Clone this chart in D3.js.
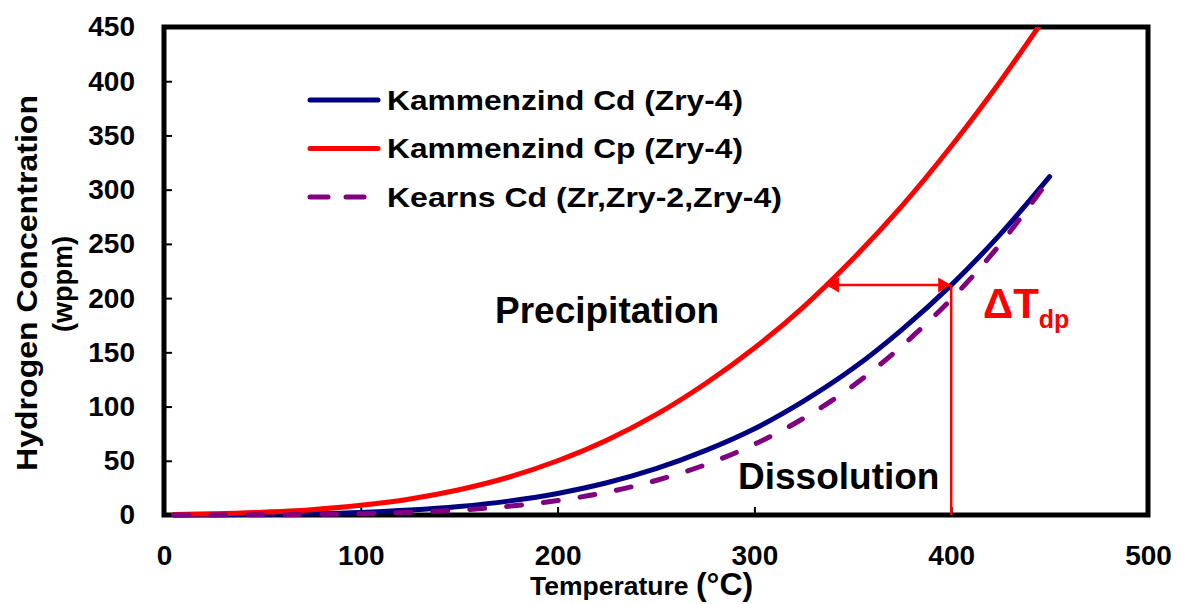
<!DOCTYPE html>
<html lang="en">
<head>
<meta charset="utf-8" />
<title>Hydride solubility</title>
<script src="https://cdn.jsdelivr.net/npm/d3@7"></script>
<style>
  body { margin: 0; background: #fff; }
  svg { display: block; font-family: "Liberation Sans", Arial, sans-serif; font-weight: bold; }
  .tick text { font-size: 28px; font-weight: bold; fill: #000; }
  .tick line { stroke: #000; stroke-width: 2px; }
</style>
</head>
<body>
<div id="chart"></div>
<script>
// temperature in degC, hydrogen in wppm
var temps = [5, 25, 50, 75, 100, 125, 150, 175, 200, 225, 250, 275, 300, 325, 350, 375, 400, 425, 450];
var cdKammenzind = [0.1, 0.2, 0.5, 1.2, 2.4, 4.5, 7.8, 12.8, 19.9, 29.7, 42.7, 59.3, 79.5, 105, 135, 171, 212, 259, 312];
var cpKammenzind = [0.5, 1.1, 2.5, 4.9, 8.9, 14.8, 23.3, 34.8, 50.0, 69.0, 92.5, 121, 154, 192, 236, 285, 340, 400, 465];
var cdKearns = [0.0, 0.1, 0.2, 0.5, 1.2, 2.4, 4.5, 8.0, 13.3, 21.0, 31.8, 46.3, 65.2, 89.2, 119, 156, 199, 250, 310];

var seriesNames = ["Kammenzind Cd (Zry-4)", "Kammenzind Cp (Zry-4)", "Kearns Cd (Zr,Zry-2,Zry-4)"];
var xTicks = [0, 100, 200, 300, 400, 500];
var yTicks = [0, 50, 100, 150, 200, 250, 300, 350, 400, 450];
var deltaT = 400; // temperature where the dT_dp arrow is drawn

var width = 1178, height = 604;
var x0 = 164, x1 = 1148, y0 = 27, y1 = 515;

var x = d3.scaleLinear().domain([0, 500]).range([x0, x1]);
var y = d3.scaleLinear().domain([0, 450]).range([y1, y0]);

var svg = d3.select("#chart").append("svg")
    .attr("width", width)
    .attr("height", height);

// clip only at the top, curves sit on top of the bottom frame line
svg.append("defs").append("clipPath").attr("id", "plot")
  .append("rect")
    .attr("x", x0).attr("y", y0)
    .attr("width", x1 - x0).attr("height", y1 - y0 + 6);

// frame
svg.append("rect")
    .attr("x", x0).attr("y", y0)
    .attr("width", x1 - x0).attr("height", y1 - y0)
    .attr("fill", "none")
    .attr("stroke", "#000")
    .attr("stroke-width", 5);

// axes, ticks pointing inward
svg.append("g")
    .attr("transform", "translate(" + x0 + ",0)")
    .call(d3.axisLeft(y).tickValues(yTicks).tickSize(-8).tickPadding(29))
    .call(function(g) { g.select(".domain").remove(); });

svg.append("g")
    .attr("transform", "translate(0," + y1 + ")")
    .call(d3.axisBottom(x).tickValues(xTicks).tickSize(-8).tickPadding(30))
    .call(function(g) { g.select(".domain").remove(); });

svg.selectAll(".tick text").attr("font-family", null).attr("font-size", null);

// curves
var line = d3.line()
    .x(function(d) { return x(d[0]); })
    .y(function(d) { return y(d[1]); })
    .curve(d3.curveCatmullRom);

function pairs(vals) { return temps.map(function(t, i) { return [t, vals[i]]; }); }

var series = [
  { name: seriesNames[0], values: cdKammenzind, color: "#000080", dash: null },
  { name: seriesNames[1], values: cpKammenzind, color: "#ff0000", dash: null },
  { name: seriesNames[2], values: cdKearns, color: "#800080", dash: "15,22" }
];

var curves = svg.append("g").attr("clip-path", "url(#plot)");
curves.selectAll("path")
  .data(series)
  .enter().append("path")
    .attr("d", function(d) { return line(pairs(d.values)); })
    .attr("fill", "none")
    .attr("stroke", function(d) { return d.color; })
    .attr("stroke-width", 5)
    .attr("stroke-linecap", "round")
    .attr("stroke-dasharray", function(d) { return d.dash; });

// dT_dp arrow
var hAt = cdKammenzind[temps.indexOf(deltaT)];
var k = d3.bisectLeft(cpKammenzind, hAt);
var tLeft = temps[k - 1] + (temps[k] - temps[k - 1]) * (hAt - cpKammenzind[k - 1]) / (cpKammenzind[k] - cpKammenzind[k - 1]);
var ay = y(hAt), ax0 = x(tLeft), ax1 = x(deltaT);

var arrow = svg.append("g").attr("fill", "#ff0000").attr("stroke", "#ff0000");
arrow.append("line")
    .attr("x1", ax0 + 8).attr("x2", ax1 - 8)
    .attr("y1", ay).attr("y2", ay)
    .attr("stroke-width", 2.5);
arrow.append("path")
    .attr("stroke", "none")
    .attr("d", "M" + ax0 + "," + ay + "l13,-7.5v15z");
arrow.append("path")
    .attr("stroke", "none")
    .attr("d", "M" + ax1 + "," + ay + "l-13,-7.5v15z");
arrow.append("line")
    .attr("x1", ax1).attr("x2", ax1)
    .attr("y1", ay).attr("y2", y1)
    .attr("stroke-width", 2.5);

var dt = svg.append("text")
    .attr("x", 983).attr("y", 318)
    .attr("fill", "#ff0000")
    .attr("font-size", 42);
dt.append("tspan").text("\u0394T");
dt.append("tspan").attr("font-size", 25).attr("dy", 10).text("dp");

// region labels
svg.append("text").attr("x", 495).attr("y", 323).attr("font-size", 37).text("Precipitation");
svg.append("text").attr("x", 738).attr("y", 489).attr("font-size", 37).text("Dissolution");

// legend
var legendW = [356, 356, 395];
var leg = svg.selectAll(".leg")
  .data(series)
  .enter().append("g")
    .attr("class", "leg")
    .attr("transform", function(d, i) { return "translate(0," + (100 + i * 48.5) + ")"; });
leg.append("line")
    .attr("x1", 310).attr("x2", 378)
    .attr("stroke", function(d) { return d.color; })
    .attr("stroke-width", 5)
    .attr("stroke-linecap", "round")
    .attr("stroke-dasharray", function(d) { return d.dash ? "18,18" : null; });
leg.append("text")
    .attr("x", 387).attr("y", 9.5)
    .attr("font-size", 27)
    .attr("textLength", function(d, i) { return legendW[i]; })
    .attr("lengthAdjust", "spacingAndGlyphs")
    .text(function(d) { return d.name; });

// axis titles
var xt = svg.append("text")
    .attr("x", 530).attr("y", 595);
xt.append("tspan").attr("font-size", 26.5).text("Temperature ");
xt.append("tspan").attr("font-size", 32).text("(\u00b0C)");

svg.append("text")
    .attr("transform", "translate(37,283) rotate(-90)")
    .attr("text-anchor", "middle")
    .attr("font-size", 29)
    .attr("textLength", 376)
    .attr("lengthAdjust", "spacingAndGlyphs")
    .text("Hydrogen Concentration");
svg.append("text")
    .attr("transform", "translate(72,284) rotate(-90)")
    .attr("text-anchor", "middle")
    .attr("font-size", 27)
    .text("(wppm)");
</script>
</body>
</html>
